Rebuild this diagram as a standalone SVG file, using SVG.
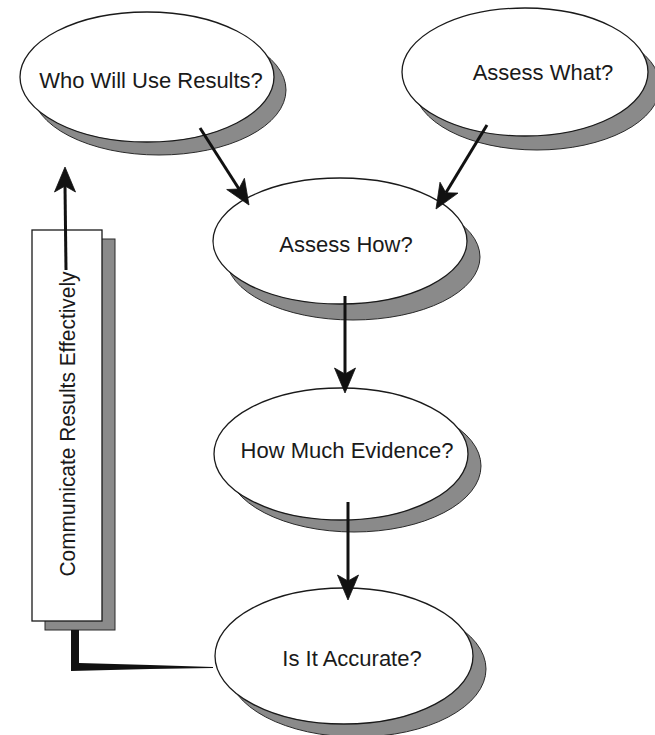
<svg xmlns="http://www.w3.org/2000/svg" width="655" height="735" viewBox="0 0 655 735">
<style>
.front{fill:#fff;stroke:#1a1a1a;stroke-width:1.3}
.shadow{fill:#8a8a8a;stroke:#2a2a2a;stroke-width:1}
.lbl{font-family:"Liberation Sans",Arial,sans-serif;font-size:22px;fill:#1a1a1a;text-anchor:middle}
.conn{stroke:#111;stroke-width:3;fill:none}
.head{fill:#111;stroke:#111;stroke-width:0.8;stroke-linejoin:round}
</style>
<rect width="655" height="735" fill="#fff"/>
<g id="who">
<ellipse class="shadow" cx="159" cy="90" rx="127" ry="65"/>
<ellipse class="front" cx="147" cy="77" rx="127" ry="65"/>
<text class="lbl" x="151" y="88">Who Will Use Results?</text>
</g>
<g id="what">
<ellipse class="shadow" cx="537" cy="86" rx="123" ry="64"/>
<ellipse class="front" cx="525" cy="72" rx="123" ry="64"/>
<text class="lbl" x="543" y="80">Assess What?</text>
</g>
<g id="how">
<ellipse class="shadow" cx="353" cy="257" rx="127" ry="63"/>
<ellipse class="front" cx="340" cy="241" rx="127" ry="63"/>
<text class="lbl" x="346" y="252">Assess How?</text>
</g>
<g id="evidence">
<ellipse class="shadow" cx="354" cy="466" rx="127" ry="66"/>
<ellipse class="front" cx="341" cy="454" rx="127" ry="66"/>
<text class="lbl" x="347" y="458">How Much Evidence?</text>
</g>
<g id="accurate">
<ellipse class="shadow" cx="357" cy="669" rx="129" ry="68"/>
<ellipse class="front" cx="344" cy="656" rx="129" ry="68"/>
<text class="lbl" x="352" y="666">Is It Accurate?</text>
</g>
<g id="communicate">
<rect class="shadow" x="45" y="239" width="70" height="391"/>
<rect class="front" x="32" y="230" width="70" height="391"/>
<text class="lbl" transform="translate(75,424) rotate(-90)" font-size="22" textLength="305" lengthAdjust="spacingAndGlyphs">Communicate Results Effectively</text>
</g>
<g id="connectors">
<line class="conn" x1="200" y1="128" x2="239" y2="189"/>
<polygon class="head" points="249,205 226.7,189.5 238.8,189 244.4,178.3"/>
<line class="conn" x1="487" y1="125" x2="445.9" y2="192.8"/>
<polygon class="head" points="436,209 440,182.2 445.9,192.8 458,193.1"/>
<line class="conn" x1="345" y1="296" x2="345" y2="374"/>
<polygon class="head" points="345,393 334.5,368 345,374 355.5,368"/>
<line class="conn" x1="348" y1="502" x2="348" y2="581"/>
<polygon class="head" points="348,600 337.5,575 348,581 358.5,575"/>
<line class="conn" x1="66" y1="270" x2="65" y2="186"/>
<polygon class="head" points="65,167 54.5,192 65,186 75.5,192"/>
<polygon points="71,630 79,630 79,663 150,665 213,667 213,668 150,669 71,671" fill="#111"/>
</g>
</svg>
